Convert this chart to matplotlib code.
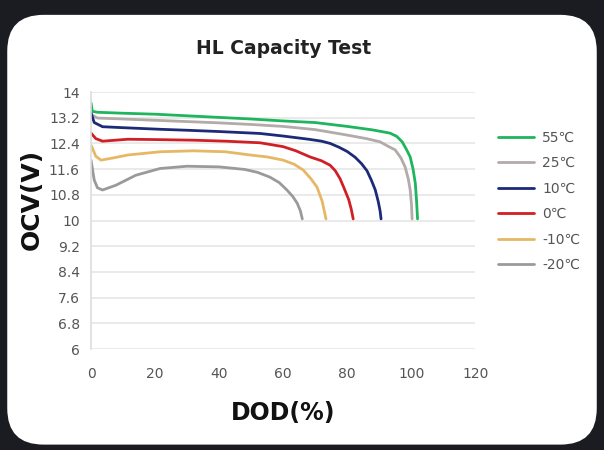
import matplotlib
matplotlib.use("Agg")
import matplotlib.pyplot as plt
from matplotlib.patches import FancyBboxPatch

# data
dod_55 = [0, 0.4, 2, 10, 20, 30, 40, 50, 60, 70, 80, 88, 93.4, 95.5, 97.2, 98.6, 99.7, 100.6, 101.3, 101.7, 102]
ocv_55 = [13.66, 13.4, 13.37, 13.34, 13.31, 13.26, 13.21, 13.16, 13.1, 13.05, 12.93, 12.82, 12.72, 12.62, 12.45, 12.2, 11.98, 11.6, 11.16, 10.6, 10.05]

dod_25 = [0, 2, 10, 20, 30, 40, 50, 60, 70, 80, 86, 90.3, 93, 95, 96.8, 98.1, 99.1, 99.7, 100.1, 100.3]
ocv_25 = [13.3, 13.19, 13.16, 13.12, 13.08, 13.04, 12.99, 12.93, 12.83, 12.66, 12.55, 12.45, 12.3, 12.2, 11.95, 11.67, 11.3, 10.95, 10.5, 10.05]

dod_10 = [0, 1, 3.6, 10, 21.6, 30, 40, 52.8, 60, 68, 72, 74.7, 77.5, 80, 82.5, 84.5, 86.2, 87.6, 88.8, 89.7, 90.3, 90.6]
ocv_10 = [13.35, 13.05, 12.92, 12.89, 12.84, 12.81, 12.77, 12.71, 12.63, 12.53, 12.47, 12.4, 12.28, 12.15, 11.97, 11.77, 11.55, 11.25, 10.95, 10.6, 10.3, 10.05]

dod_0 = [0, 1.5, 3.6, 11.5, 20, 32.4, 42, 52.8, 60, 64, 68.4, 72, 74.7, 76.3, 77.8, 79, 80.5, 81.3, 81.9]
ocv_0 = [12.72, 12.55, 12.47, 12.53, 12.52, 12.5, 12.47, 12.42, 12.3, 12.17, 11.98, 11.86, 11.72, 11.55, 11.3, 11.02, 10.65, 10.35, 10.05]

dod_m10 = [0, 1.5, 3.1, 7, 11.5, 21.6, 32, 42, 49.7, 55, 60, 63.5, 66.3, 68.7, 70.6, 72.2, 73.4]
ocv_m10 = [12.35, 12.0, 11.88, 11.95, 12.04, 12.14, 12.17, 12.14, 12.04, 11.98, 11.88, 11.75, 11.57, 11.3, 11.04, 10.6, 10.05]

dod_m20 = [0, 1, 2, 3.6, 7.8, 14, 21.6, 30, 40, 48, 52, 55.9, 58.8, 61.2, 63, 64.4, 65.4, 66]
ocv_m20 = [11.88, 11.26, 11.02, 10.95, 11.1, 11.41, 11.62, 11.69, 11.67, 11.59, 11.5, 11.35, 11.18, 10.95, 10.75, 10.54, 10.3, 10.05]

series = [
    ("55\u2103", dod_55, ocv_55, "#1fb45e"),
    ("25\u2103", dod_25, ocv_25, "#b3aaaa"),
    ("10\u2103", dod_10, ocv_10, "#1c2a78"),
    ("0\u2103", dod_0, ocv_0, "#d11f26"),
    ("-10\u2103", dod_m10, ocv_m10, "#e6b866"),
    ("-20\u2103", dod_m20, ocv_m20, "#9a9a9a"),
]

y_ticks = [6, 6.8, 7.6, 8.4, 9.2, 10, 10.8, 11.6, 12.4, 13.2, 14]
y_tick_labels = ["6", "6.8", "7.6", "8.4", "9.2", "10", "10.8", "11.6", "12.4", "13.2", "14"]
x_ticks = [0, 20, 40, 60, 80, 100, 120]

plt.rcParams['font.family'] = ['DejaVu Sans']

fig = plt.figure(figsize=(6.04, 4.5), dpi=100)
fig.patch.set_facecolor("#1b1c21")

card = FancyBboxPatch((0.012, 0.012), 0.976, 0.955,
                      boxstyle="round,pad=0,rounding_size=0.06",
                      transform=fig.transFigure, facecolor="white",
                      edgecolor="none", mutation_aspect=604 / 450, zorder=-10)
fig.patches.append(card)

ax = fig.add_axes([0.1507, 0.2244, 0.636, 0.5711])
ax.set_facecolor("white")

for label, xs, ys, col in series:
    ax.plot(xs, ys, color=col, linewidth=2.0, label=label,
            solid_capstyle="round", solid_joinstyle="round")

ax.set_xlim(0, 120)
ax.set_ylim(6, 14)
ax.set_yticks(y_ticks)
ax.set_yticklabels(y_tick_labels)
ax.set_xticks(x_ticks)
ax.tick_params(length=0, labelsize=10, colors="#555555")
ax.tick_params(axis="x", pad=13)
ax.tick_params(axis="y", pad=8)
ax.grid(axis="y", color="#e6e6e6", linewidth=1.2)
ax.set_axisbelow(True)
for s in ["top", "right", "bottom"]:
    ax.spines[s].set_visible(False)
ax.spines["left"].set_color("#dddddd")
ax.spines["left"].set_linewidth(1.2)

fig.text(0.469, 0.893, "HL Capacity Test", ha="center", va="center",
         fontsize=13.5, fontweight="bold", color="#222222")
fig.text(0.053, 0.556, "OCV(V)", ha="center", va="center", rotation=90,
         fontsize=18, fontweight="bold", color="#111111")
fig.text(0.469, 0.082, "DOD(%)", ha="center", va="center",
         fontsize=17, fontweight="bold", color="#111111")

fig.legend(loc="upper left", bbox_to_anchor=(0.803, 0.737), frameon=False,
           fontsize=10, handlelength=2.6, labelspacing=0.82,
           handletextpad=0.6, labelcolor="#555555")

fig.savefig("out.png", dpi=100, facecolor=fig.get_facecolor())
